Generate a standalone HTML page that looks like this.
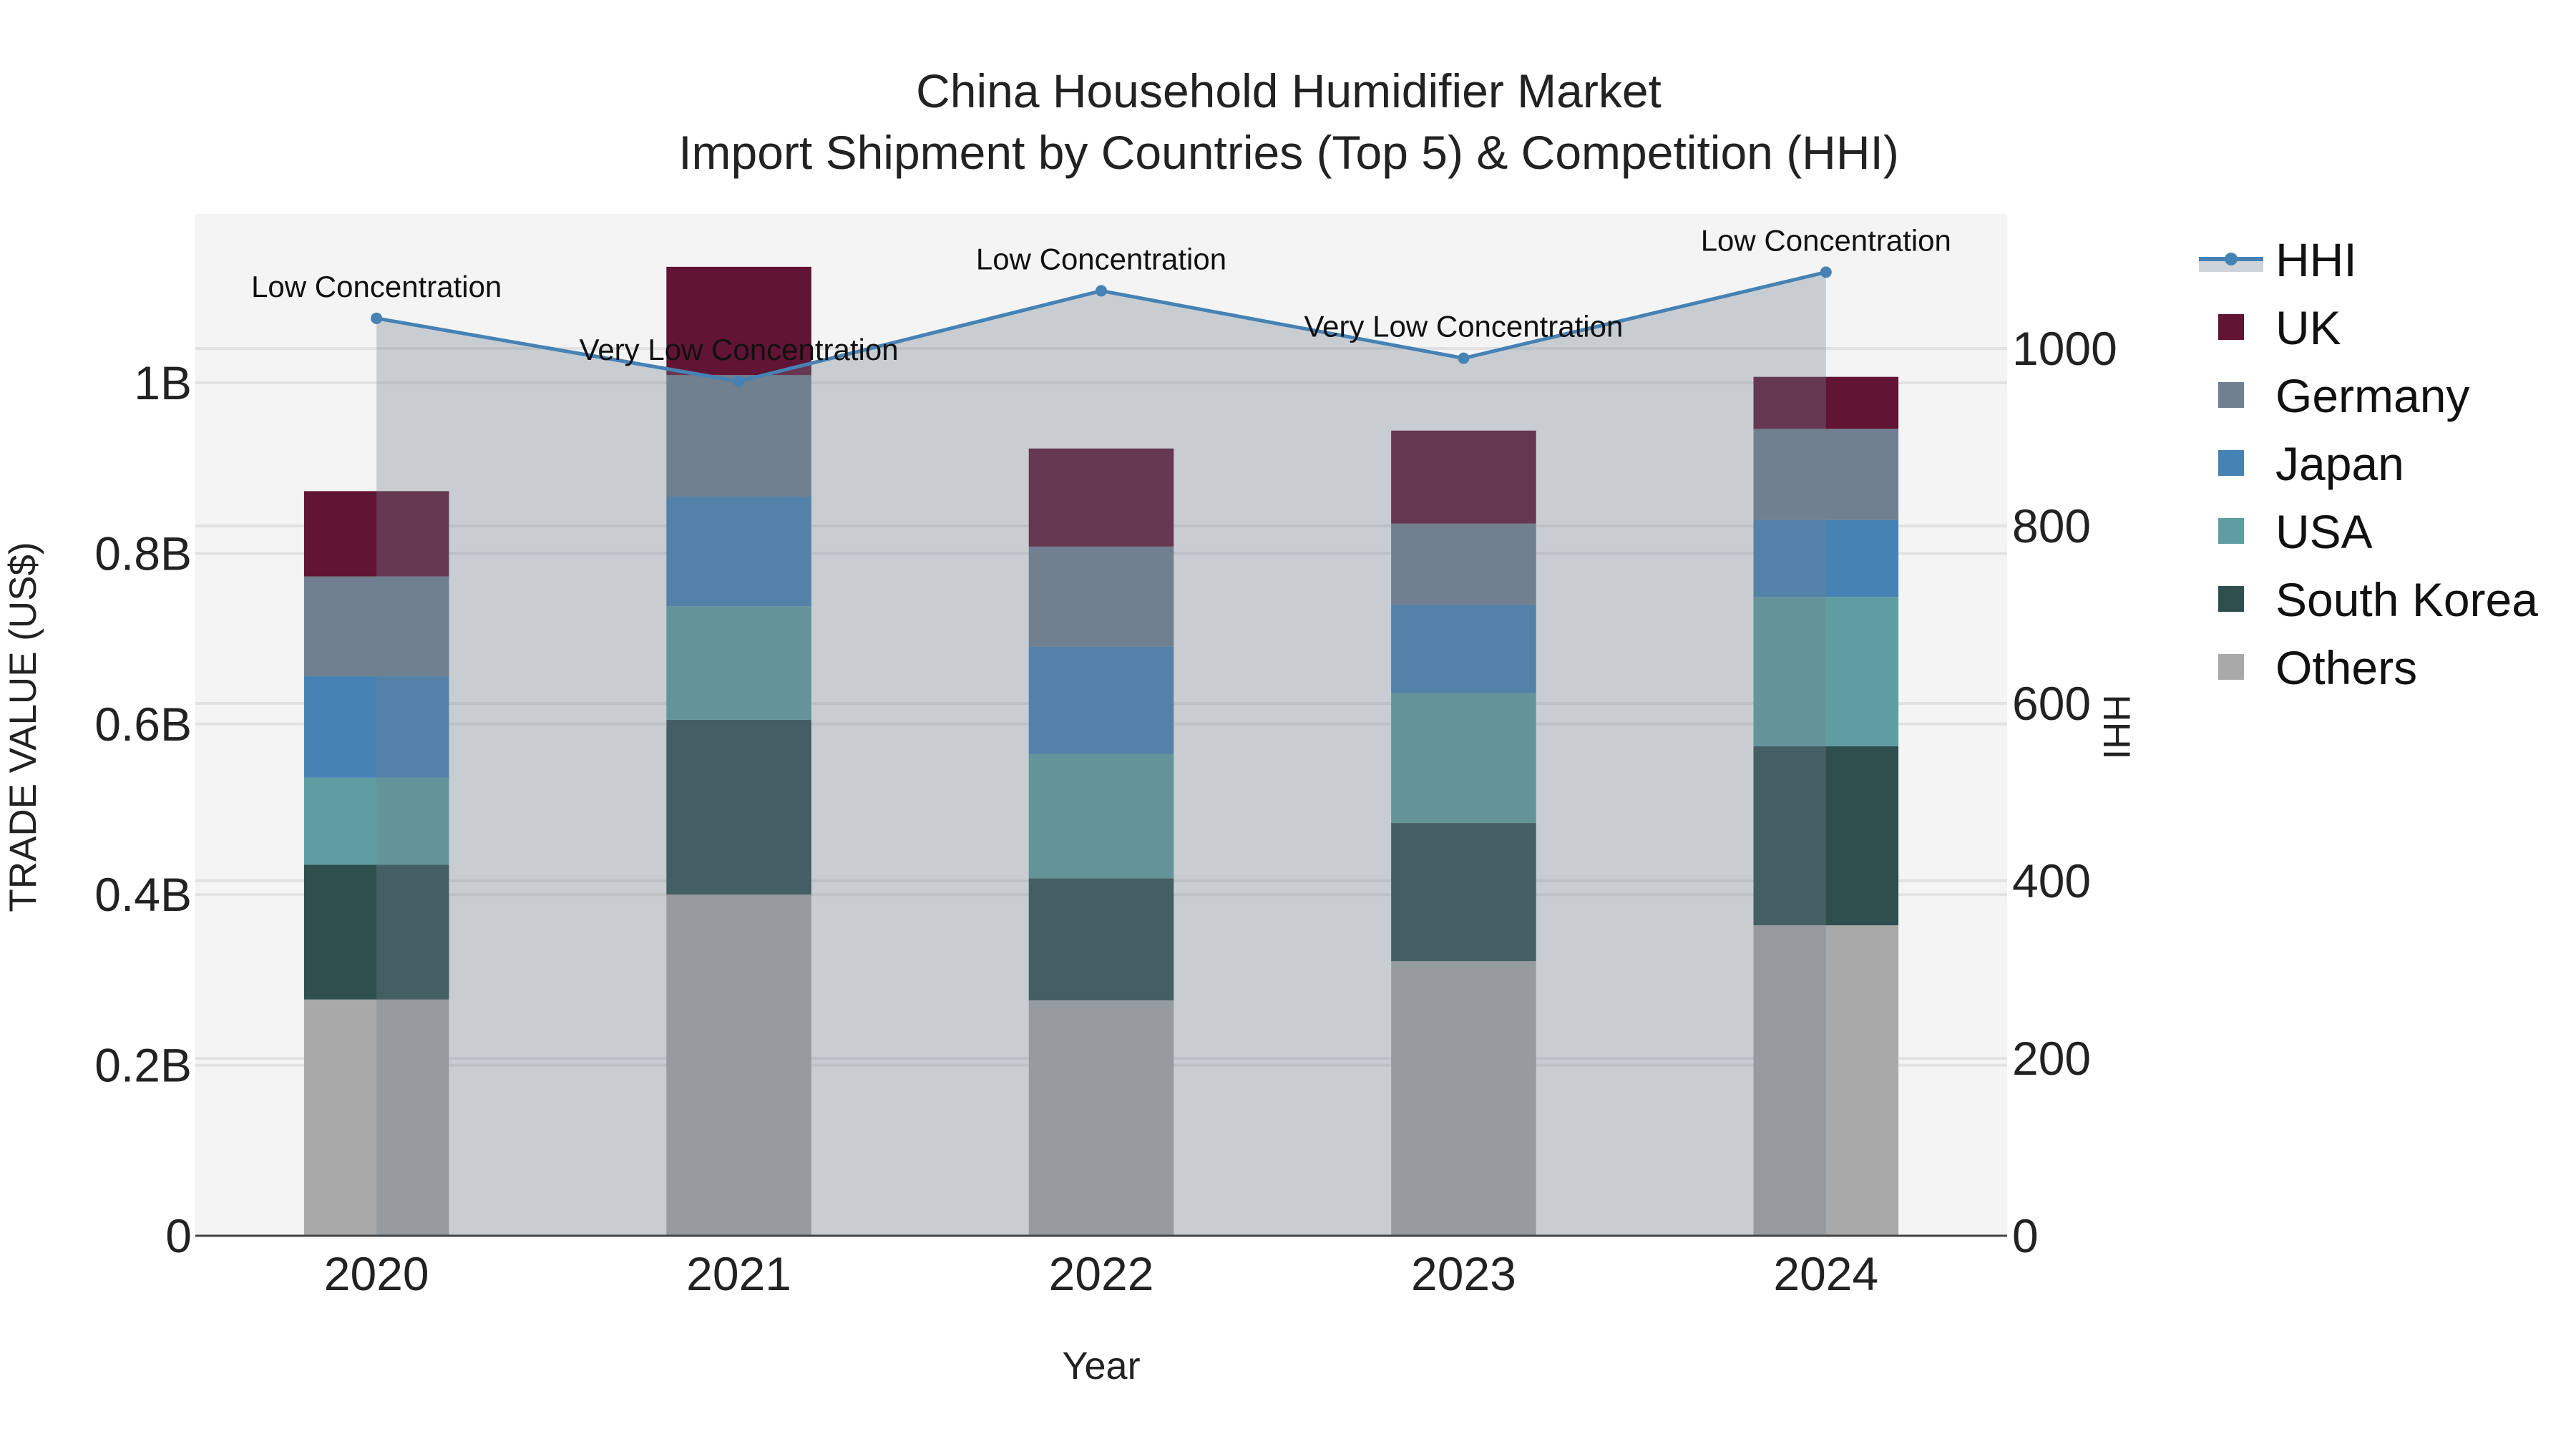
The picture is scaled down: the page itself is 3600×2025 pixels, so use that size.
<!DOCTYPE html>
<html><head><meta charset="utf-8">
<style>
html,body{margin:0;padding:0;background:#fff;}
svg{display:block;font-family:"Liberation Sans",Arial,sans-serif;}
</style></head>
<body>
<svg id="chart" width="3600" height="2025" viewBox="0 0 3600 2025" xmlns="http://www.w3.org/2000/svg">
<rect width="3600" height="2025" fill="#ffffff"/>
<rect x="273" y="299" width="2532" height="1428" fill="#f4f4f4"/>
<g id="grid"></g>
<g id="bars"></g>
<g id="hhi"></g>
<g id="axes"></g>
<text x="1801" y="150" text-anchor="middle" font-size="66" fill="#222">China Household Humidifier Market</text>
<text x="1801" y="236" text-anchor="middle" font-size="66" fill="#222">Import Shipment by Countries (Top 5) &amp; Competition (HHI)</text>
<text x="1539" y="1927" text-anchor="middle" font-size="54" fill="#222">Year</text>
<text transform="translate(50,1016) rotate(-90)" text-anchor="middle" font-size="53" fill="#222">TRADE VALUE (US$)</text>
<text transform="translate(2940,1016) rotate(90)" text-anchor="middle" font-size="53" fill="#222">HHI</text>
<g id="legend"></g>
</svg>
<script>
const years = ["2020","2021","2022","2023","2024"];
const others = [0.277,0.400,0.276,0.322,0.364];
const southKorea = [0.158,0.205,0.143,0.162,0.210];
const usa = [0.102,0.133,0.146,0.152,0.175];
const japan = [0.119,0.129,0.126,0.104,0.090];
const germany = [0.117,0.142,0.117,0.095,0.107];
const uk = [0.100,0.127,0.115,0.109,0.061];
const hhiValues = [1034,963,1065,989,1086];
const hhiLabels = ["Low Concentration","Very Low Concentration","Low Concentration","Very Low Concentration","Low Concentration"];
const yTicks = [0,0.2,0.4,0.6,0.8,1.0];
const yTickLabels = ["0","0.2B","0.4B","0.6B","0.8B","1B"];
const y2Ticks = [0,200,400,600,800,1000];

const NS="http://www.w3.org/2000/svg";
const L=273,R=2805,T=299,B=1727;
const step=(R-L)/years.length;
const xC=i=>L+step*(i+0.5);
const yV=v=>B-v*1192;
const yH=h=>B-h*1.24;
function mk(tag,attrs,parent){const e=document.createElementNS(NS,tag);for(const k in attrs)e.setAttribute(k,attrs[k]);parent.appendChild(e);return e;}

const grid=document.getElementById('grid');
yTicks.forEach((t,i)=>{ if(t>0){const g=mk('line',{x1:L,x2:R,y1:yV(t),y2:yV(t),stroke:'#e2e2e2','stroke-width':4},grid);

}});
y2Ticks.forEach(t=>{ if(t>0){const g=mk('line',{x1:L,x2:R,y1:yH(t),y2:yH(t),stroke:'#e2e2e2','stroke-width':4},grid);

}});

const series=[["others",others,"#a9a9a9"],["south-korea",southKorea,"#2f4f4f"],["usa",usa,"#5f9ea0"],["japan",japan,"#4682b4"],["germany",germany,"#708090"],["uk",uk,"#611434"]];
const bars=document.getElementById('bars');
const bw=step*0.4;
years.forEach((y,i)=>{let base=0;series.forEach(s=>{const v=s[1][i];
const r=mk('rect',{x:xC(i)-bw/2,y:yV(base+v),width:bw,height:yV(base)-yV(base+v),fill:s[2]},bars);


base+=v;});});

const hhi=document.getElementById('hhi');
let d='M'+xC(0)+','+yH(0);hhiValues.forEach((h,i)=>{d+=' L'+xC(i)+','+yH(h);});d+=' L'+xC(hhiValues.length-1)+','+yH(0)+' Z';
const area=mk('path',{d:d,fill:'rgba(112,128,144,0.33)'},hhi);


const line=mk('polyline',{points:hhiValues.map((h,i)=>xC(i)+','+yH(h)).join(' '),fill:'none',stroke:'#4682b4','stroke-width':5},hhi);


hhiValues.forEach((h,i)=>{const c=mk('circle',{cx:xC(i),cy:yH(h),r:8,fill:'#4682b4'},hhi);


const t=mk('text',{x:xC(i),y:yH(h)-30,'text-anchor':'middle','font-size':42,fill:'#111'},hhi);t.textContent=hhiLabels[i];

});

const axes=document.getElementById('axes');
const ax=mk('line',{x1:L,x2:R,y1:B,y2:B,stroke:'#444','stroke-width':3},axes);


years.forEach((y,i)=>{const t=mk('text',{x:xC(i),y:1803,'text-anchor':'middle','font-size':66,fill:'#222'},axes);t.textContent=y;

});
yTicks.forEach((v,i)=>{const t=mk('text',{x:268,y:yV(v)+23,'text-anchor':'end','font-size':66,fill:'#222'},axes);t.textContent=yTickLabels[i];

});
y2Ticks.forEach(v=>{const t=mk('text',{x:2812,y:yH(v)+23,'text-anchor':'start','font-size':66,fill:'#222'},axes);t.textContent=String(v);

});

const lg=document.getElementById('legend');
const hg=mk('g',{},lg);


mk('rect',{x:3073,y:362,width:90,height:18,fill:'#cfd4db'},hg);
mk('line',{x1:3073,x2:3163,y1:362,y2:362,stroke:'#4682b4','stroke-width':6},hg);
mk('circle',{cx:3118,cy:362,r:9,fill:'#4682b4'},hg);
const ht=mk('text',{x:3180,y:386,'font-size':66,fill:'#111'},hg);ht.textContent='HHI';
const legendItems=[["UK","#611434"],["Germany","#708090"],["Japan","#4682b4"],["USA","#5f9ea0"],["South Korea","#2f4f4f"],["Others","#a9a9a9"]];
legendItems.forEach((it,i)=>{const cy=457+i*95;const g=mk('g',{},lg);


mk('rect',{x:3100,y:cy-18,width:36,height:36,fill:it[1]},g);
const t=mk('text',{x:3180,y:cy+24,'font-size':66,fill:'#111'},g);t.textContent=it[0];});
</script>
</body></html>
